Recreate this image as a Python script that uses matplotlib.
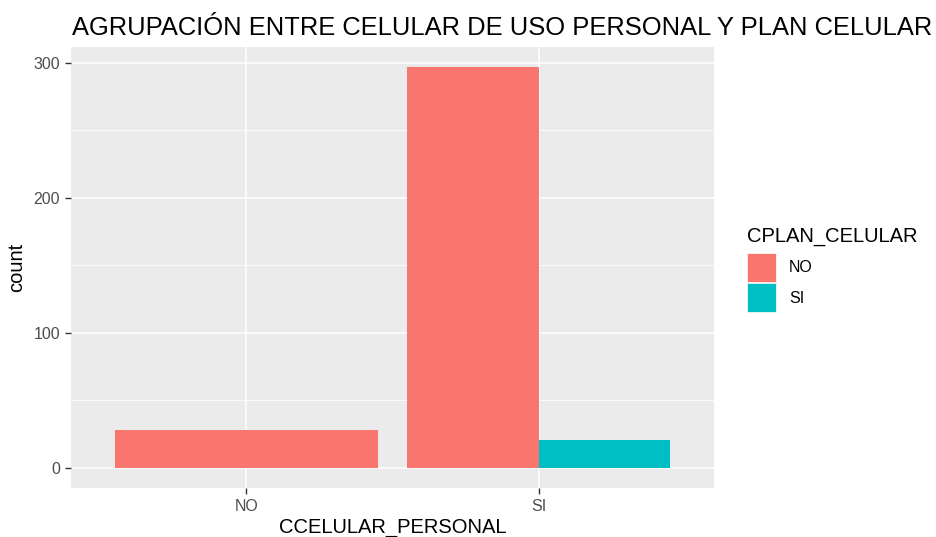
import matplotlib
matplotlib.use("Agg")
import matplotlib.pyplot as plt
from matplotlib.patches import Patch
import numpy as np

plt.rcParams['font.family'] = ['Liberation Sans', 'DejaVu Sans']

categories = ["NO", "SI"]
plan_levels = ["NO", "SI"]
counts_plan_no = [28, 297]
counts_plan_si = [0, 21]
colors = ["#F8766D", "#00BFC4"]

W, H = 936, 537
fig = plt.figure(figsize=(W/100, H/100), dpi=100)
L, R, T, B = 71, 714, 47, 488
ax = fig.add_axes([L/W, 1-B/H, (R-L)/W, (B-T)/H])
ax.set_facecolor("#EBEBEB")

x = np.arange(1, len(categories)+1)
# dodge: groups with one level occupy full width
for i, xi in enumerate(x):
    present = [(lvl, c, v) for lvl, c, v in zip(plan_levels, colors, [counts_plan_no[i], counts_plan_si[i]]) if v > 0]
    n = len(present)
    w = 0.9 / n
    for j, (lvl, c, v) in enumerate(present):
        left = xi - 0.45 + j*w
        ax.bar(left, v, width=w, align='edge', color=c, zorder=3)

ymax = max(max(counts_plan_no), max(counts_plan_si))
ax.set_ylim(-0.05*ymax, 1.05*ymax)
ax.set_xlim(0.4, 2.6)
ax.set_xticks(x)
ax.set_xticklabels(categories)
ax.set_yticks([0, 100, 200, 300])
ax.set_yticks([50, 150, 250], minor=True)
ax.grid(which='major', color='white', linewidth=1.1, zorder=0)
ax.grid(which='minor', axis='y', color='white', linewidth=0.55, zorder=0)
ax.set_axisbelow(True)
for s in ax.spines.values():
    s.set_visible(False)
ax.tick_params(axis='both', which='major', colors='#333333', labelcolor='#4D4D4D', labelsize=11.5, length=4, width=1, pad=4)
ax.tick_params(axis='y', which='minor', length=0)

ax.set_xlabel("CCELULAR_PERSONAL", fontsize=14.5, color='black', labelpad=3)
ax.set_ylabel("count", fontsize=14.5, color='black', labelpad=5)

fig.text(72/W, 1-35/H, "AGRUPACIÓN ENTRE CELULAR DE USO PERSONAL Y PLAN CELULAR",
         fontsize=18.4, color='black', ha='left', va='baseline')

fig.text(747/W, 1-242/H, "CPLAN_CELULAR", fontsize=14.5, color='black',
         ha='left', va='baseline')
handles = [Patch(facecolor=c, edgecolor='white', linewidth=0.5) for c in colors]
leg = fig.legend(handles, plan_levels, loc='upper left',
                 bbox_to_anchor=(742/W, 1-248/H), frameon=False, fontsize=11.5,
                 handlelength=1.85, handleheight=2.4,
                 labelspacing=0.1, handletextpad=0.8, borderaxespad=0, borderpad=0.3)

fig.savefig("out.png", dpi=100)
